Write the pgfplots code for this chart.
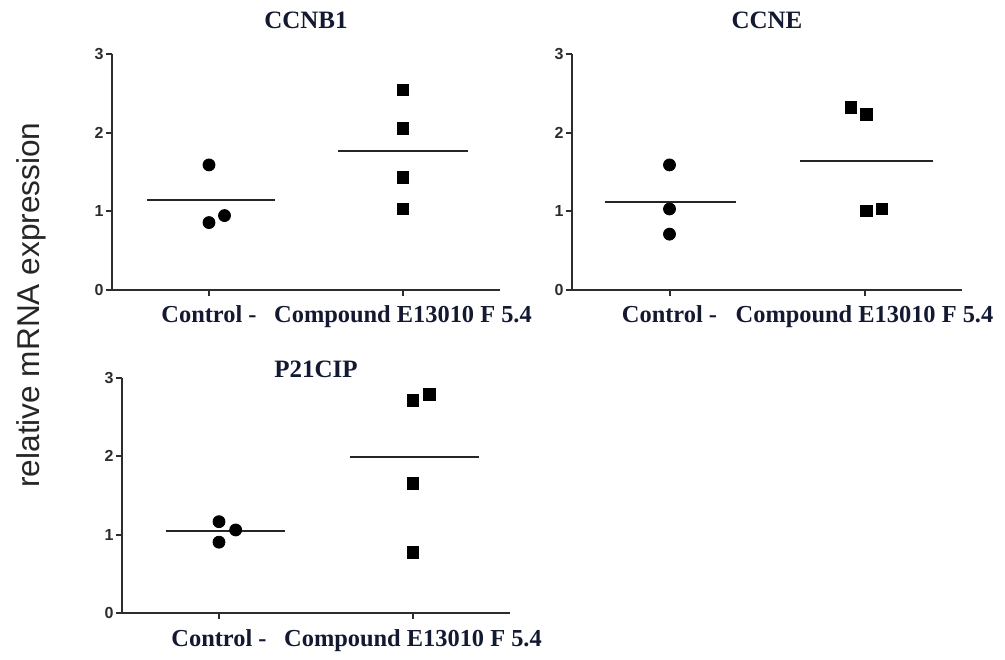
\documentclass[border=0pt]{standalone}
\usepackage{pgfplots}
\pgfplotsset{compat=1.18}
\usepackage{fontspec}
\setmainfont{Liberation Serif}
\newfontfamily\arial{Liberation Sans}
\definecolor{txt}{RGB}{20,25,50}
\definecolor{axc}{RGB}{45,45,45}
\pgfplotsset{
  panel/.style={
    scale only axis,
    height=118pt,
    xmin=0.5, xmax=2.5, ymin=0, ymax=3,
    axis lines=left,
    axis line style={-, line width=1.2pt, color=axc},
    xtick={1,2}, ytick={0,1,2,3},
    xticklabels={Control -, Compound E13010 F 5.4},
    tick align=outside,
    major tick length=3pt,
    tick style={line width=1pt, color=axc},
    /pgf/number format/assume math mode=true,
    yticklabel style={font=\arial\bfseries\fontsize{8}{9}\selectfont, color=axc, inner sep=1pt},
    xticklabel style={font=\bfseries\fontsize{12.2}{14}\selectfont, color=txt, yshift=-1.5pt},
    title style={font=\bfseries\fontsize{12.5}{14}\selectfont, color=txt, anchor=base, at={(0.5,1)}},
    clip=false,
  },
  ctrl/.style={only marks, mark=*, mark size=3pt, color=black},
  comp/.style={only marks, mark=square*, mark size=2.9pt, color=black},
  meanl/.style={no marks, line width=1pt, color=black!85},
}
\begin{document}
\begin{tikzpicture}
\path[use as bounding box] (0,0) rectangle (502.5pt,329.5pt);
% Panel 1: CCNB1
\begin{axis}[panel, width=194pt, at={(56pt,184.5pt)}, anchor=south west,
  title={CCNB1}, title style={yshift=7pt}]
\addplot[ctrl] coordinates {(1,1.59) (1,0.857) (1.08,0.946)};
\addplot[comp] coordinates {(2,2.546) (2,2.058) (2,1.43) (2,1.031)};
\addplot[meanl] coordinates {(0.68,1.15) (1.34,1.15)};
\addplot[meanl] coordinates {(1.665,1.77) (2.335,1.77)};
\end{axis}
% Panel 2: CCNE
\begin{axis}[panel, width=195pt, at={(286pt,184.5pt)}, anchor=south west,
  title={CCNE}, title style={yshift=7pt}]
\addplot[ctrl] coordinates {(1,1.59) (1,1.03) (1,0.71)};
\addplot[comp] coordinates {(1.93,2.32) (2.01,2.23) (2.01,1.006) (2.09,1.03)};
\addplot[meanl] coordinates {(0.67,1.116) (1.34,1.116)};
\addplot[meanl] coordinates {(1.67,1.646) (2.35,1.646)};
\end{axis}
% Panel 3: P21CIP
\begin{axis}[panel, width=194pt, height=117.5pt, at={(61pt,23pt)}, anchor=south west,
  title={P21CIP}, title style={yshift=-5.5pt}]
\addplot[ctrl] coordinates {(1,1.166) (1,0.904) (1.086,1.06)};
\addplot[comp] coordinates {(2,2.715) (2.086,2.787) (2,1.655) (2,0.772)};
\addplot[meanl] coordinates {(0.725,1.048) (1.34,1.048)};
\addplot[meanl] coordinates {(1.677,1.986) (2.34,1.986)};
\end{axis}
\node[rotate=90, font=\arial\fontsize{15.8}{18}\selectfont, color=black!85] at (15.5pt,177pt) {relative mRNA expression};
\end{tikzpicture}
\end{document}
